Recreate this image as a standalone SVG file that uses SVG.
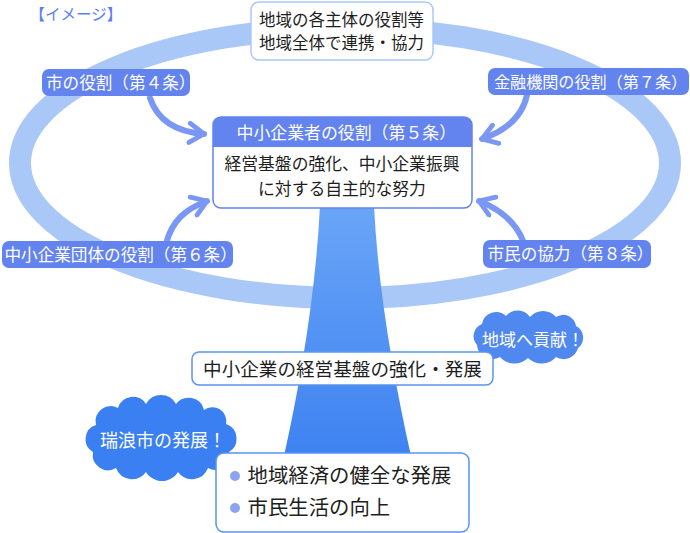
<svg xmlns="http://www.w3.org/2000/svg" width="690" height="533" viewBox="0 0 690 533">
<defs>
<style>
text{font-family:"Noto Sans CJK JP","Noto Sans",sans-serif;}
.lbl{fill:#6383ef;}
.lt{fill:#ffffff;font-size:16.6px;}
.dark{fill:#1e1e1e;text-anchor:middle;}
.arr{fill:none;stroke:#7b97f4;stroke-width:6;stroke-linecap:round;}
</style>
<linearGradient id="trunkG" x1="0" y1="0" x2="0" y2="1">
<stop offset="0" stop-color="#6aa5f7"/>
<stop offset="1" stop-color="#3e82f1"/>
</linearGradient>
<marker id="chev" viewBox="0 0 10 10" refX="7" refY="5" markerWidth="4" markerHeight="4" orient="auto" markerUnits="strokeWidth">
<polyline points="1,1 7,5 1,9" fill="none" stroke="#7b97f4" stroke-width="2" stroke-linecap="round" stroke-linejoin="round"/>
</marker>
</defs>
<rect width="690" height="533" fill="#ffffff"/>
<g id="ring">
<ellipse cx="345" cy="163" rx="325" ry="135" fill="none" stroke="#aac8f7" stroke-width="22"/>
</g>
<g id="trunk">
<path d="M320 205 C316 290 301 380 284 456 L411 456 C394 380 378 290 374 205 Z" fill="url(#trunkG)"/>
</g>
<text x="29.5" y="19.5" style="font-size:15.5px;fill:#5b7ff0">【イメージ】</text>
<g id="top-box">
<rect x="251" y="2" width="182" height="58" rx="8" fill="#ffffff" stroke="#aac8f7" stroke-width="1.5"/>
<text class="dark" x="341.5" y="25.5" style="font-size:16.5px">地域の各主体の役割等</text>
<text class="dark" x="341.5" y="48.5" style="font-size:16.5px">地域全体で連携・協力</text>
</g>
<g id="connectors">
<path class="arr" d="M150 98 C158 122 178 132 204 134" marker-end="url(#chev)"/>
<path class="arr" d="M527 95 C522 118 505 131 482 139" marker-end="url(#chev)"/>
<path class="arr" d="M166 244 C172 220 186 209 207 201" marker-end="url(#chev)"/>
<path class="arr" d="M524 243 C516 222 500 209 479 201" marker-end="url(#chev)"/>
</g>
<g id="label-4">
<rect class="lbl" x="42" y="69" width="148" height="27" rx="7"/>
<text class="lt" x="46" y="88.5">市の役割（第４条）</text>
</g>
<g id="label-7">
<rect class="lbl" x="488" y="68" width="201" height="27" rx="7"/>
<text class="lt" x="494" y="87.5" style="font-size:16.1px">金融機関の役割（第７条）</text>
</g>
<g id="label-6">
<rect class="lbl" x="2" y="241" width="231" height="27" rx="7"/>
<text class="lt" x="4.5" y="260.5">中小企業団体の役割（第６条）</text>
</g>
<g id="label-8">
<rect class="lbl" x="483" y="240" width="168" height="28" rx="7"/>
<text class="lt" x="487.5" y="260">市民の協力（第８条）</text>
</g>
<g id="center-box">
<rect x="213" y="117" width="259" height="91" rx="8" fill="#ffffff" stroke="#6383ef" stroke-width="1.5"/>
<path d="M213 147 V125 A8 8 0 0 1 221 117 H464 A8 8 0 0 1 472 125 V147 Z" fill="#6383ef"/>
<text class="lt" x="236.5" y="138.5" style="font-size:16.9px">中小企業者の役割（第５条）</text>
<text class="dark" x="342" y="169.5" style="font-size:16.8px">経営基盤の強化、中小企業振興</text>
<text class="dark" x="342" y="195" style="font-size:16.8px">に対する自主的な努力</text>
</g>
<g id="cloud-chiiki">
<path d="M477 345 A13 13 0 0 1 482 324 A14.4 14.4 0 0 1 506 316 A15 15 0 0 1 530 317 A17 17 0 0 1 556 317 A13 13 0 0 1 576 326 A13 13 0 0 1 578 348 A14.8 14.8 0 0 1 556 357 A19.3 19.3 0 0 1 528 358 A19.3 19.3 0 0 1 500 357 A15.2 15.2 0 0 1 477 345 Z" fill="#4f88ee"/>
<text class="lt" x="482" y="346" style="font-size:17px">地域へ貢献！</text>
</g>
<g id="mid-box">
<rect x="192" y="352" width="301" height="33" rx="7" fill="#ffffff" stroke="#5b93f2" stroke-width="1.5"/>
<text class="dark" x="342.5" y="375.5" style="font-size:18.6px">中小企業の経営基盤の強化・発展</text>
</g>
<g id="cloud-mizunami">
<path d="M93 452 A14.8 14.8 0 0 1 96 425 A15.2 15.2 0 0 1 118 408 A15.6 15.6 0 0 1 146 404 A17 17 0 0 1 176 404 A15.8 15.8 0 0 1 204 410 A13.9 13.9 0 0 1 226 424 A15.5 15.5 0 0 1 229 452 A14.2 14.2 0 0 1 208 468 A17.2 17.2 0 0 1 178 472 A18.7 18.7 0 0 1 146 472 A17.2 17.2 0 0 1 116 468 A15.4 15.4 0 0 1 93 452 Z" fill="#3b80f2"/>
<text class="lt" x="100" y="446.5" style="font-size:18px">瑞浪市の発展！</text>
</g>
<g id="bottom-box">
<rect x="216" y="453" width="253" height="79" rx="8" fill="#ffffff" stroke="#5b93f2" stroke-width="1.5"/>
<circle cx="235" cy="476" r="5" fill="#8ea3f0"/>
<circle cx="235" cy="508" r="5" fill="#8ea3f0"/>
<text x="247.5" y="483" style="font-size:20.4px;fill:#1e1e1e">地域経済の健全な発展</text>
<text x="247.5" y="515" style="font-size:20.4px;fill:#1e1e1e">市民生活の向上</text>
</g>
</svg>
